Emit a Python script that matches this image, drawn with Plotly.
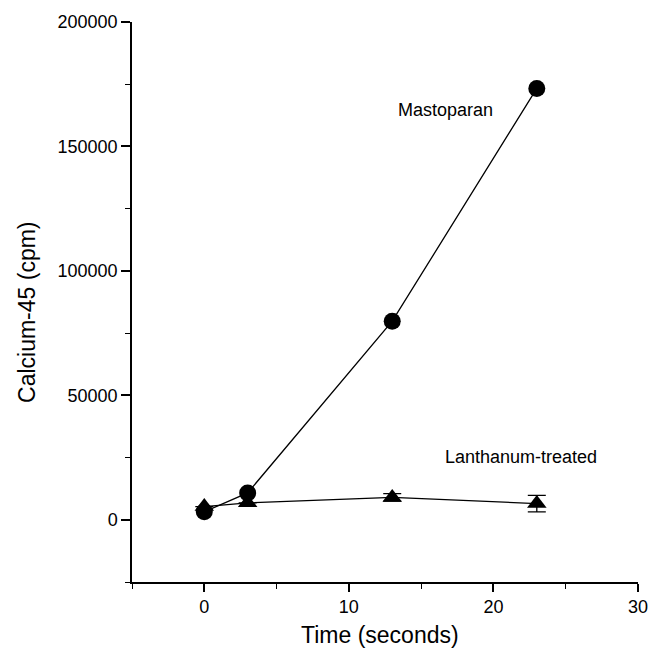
import plotly.graph_objects as go

time_s = [0, 3, 13, 23]
mastoparan = [3200, 10800, 79800, 173300]
lanthanum = [5300, 6800, 9000, 6500]
lanthanum_err = [0, 0, 1500, 3300]

x_ticks = [0, 10, 20, 30]
y_ticks = [0, 50000, 100000, 150000, 200000]

font_family = "Liberation Sans, Arial, sans-serif"

fig = go.Figure()
fig.add_trace(go.Scatter(
    x=time_s, y=lanthanum, mode="lines+markers", name="Lanthanum-treated",
    line=dict(color="black", width=1.3),
    marker=dict(symbol="triangle-up", size=17, color="black"),
    error_y=dict(type="data", array=lanthanum_err, visible=True, color="black", thickness=1.3, width=9),
))
fig.add_trace(go.Scatter(
    x=time_s, y=mastoparan, mode="lines+markers", name="Mastoparan",
    line=dict(color="black", width=1.3),
    marker=dict(symbol="circle", size=17, color="black"),
))

fig.add_annotation(x=16.65, y=164600, text="Mastoparan", showarrow=False,
                   xanchor="center", yanchor="middle",
                   font=dict(size=18, color="black", family=font_family))
fig.add_annotation(x=21.9, y=25200, text="Lanthanum-treated", showarrow=False,
                   xanchor="center", yanchor="middle",
                   font=dict(size=18, color="black", family=font_family))

# axis titles placed as annotations in paper coordinates
fig.add_annotation(xref="paper", yref="paper", x=0.490, y=-0.0946, text="Time (seconds)",
                   xanchor="center", yanchor="middle",
                   showarrow=False, font=dict(size=23, color="black", family=font_family))
fig.add_annotation(xref="paper", yref="paper", x=-0.2075, y=0.4804, text="Calcium-45 (cpm)",
                   xanchor="center", yanchor="middle",
                   textangle=-90, showarrow=False, font=dict(size=23, color="black", family=font_family))

fig.update_layout(
    width=651, height=642,
    margin=dict(l=124, r=21, t=14, b=68, autoexpand=False),
    paper_bgcolor="white", plot_bgcolor="white",
    showlegend=False,
    font=dict(family=font_family, color="black"),
)
fig.update_xaxes(
    range=[-5, 30], tickvals=x_ticks, ticktext=[str(v) for v in x_ticks],
    showgrid=False, zeroline=False, showline=True, linecolor="black", linewidth=1.5,
    ticks="outside", ticklen=8, tickwidth=1.5, tickcolor="black",
    minor=dict(dtick=5, tick0=0, ticks="outside", ticklen=5, tickwidth=1.3, tickcolor="black"),
    tickfont=dict(size=18), automargin=False,
)
fig.update_yaxes(
    range=[-25000, 200000], tickvals=y_ticks, ticktext=[str(v) for v in y_ticks],
    showgrid=False, zeroline=False, showline=True, linecolor="black", linewidth=1.5,
    ticks="outside", ticklen=9, tickwidth=1.5, tickcolor="black",
    minor=dict(dtick=25000, tick0=0, ticks="outside", ticklen=5, tickwidth=1.3, tickcolor="black"),
    tickfont=dict(size=18), automargin=False,
)

fig.write_html("out.html")
